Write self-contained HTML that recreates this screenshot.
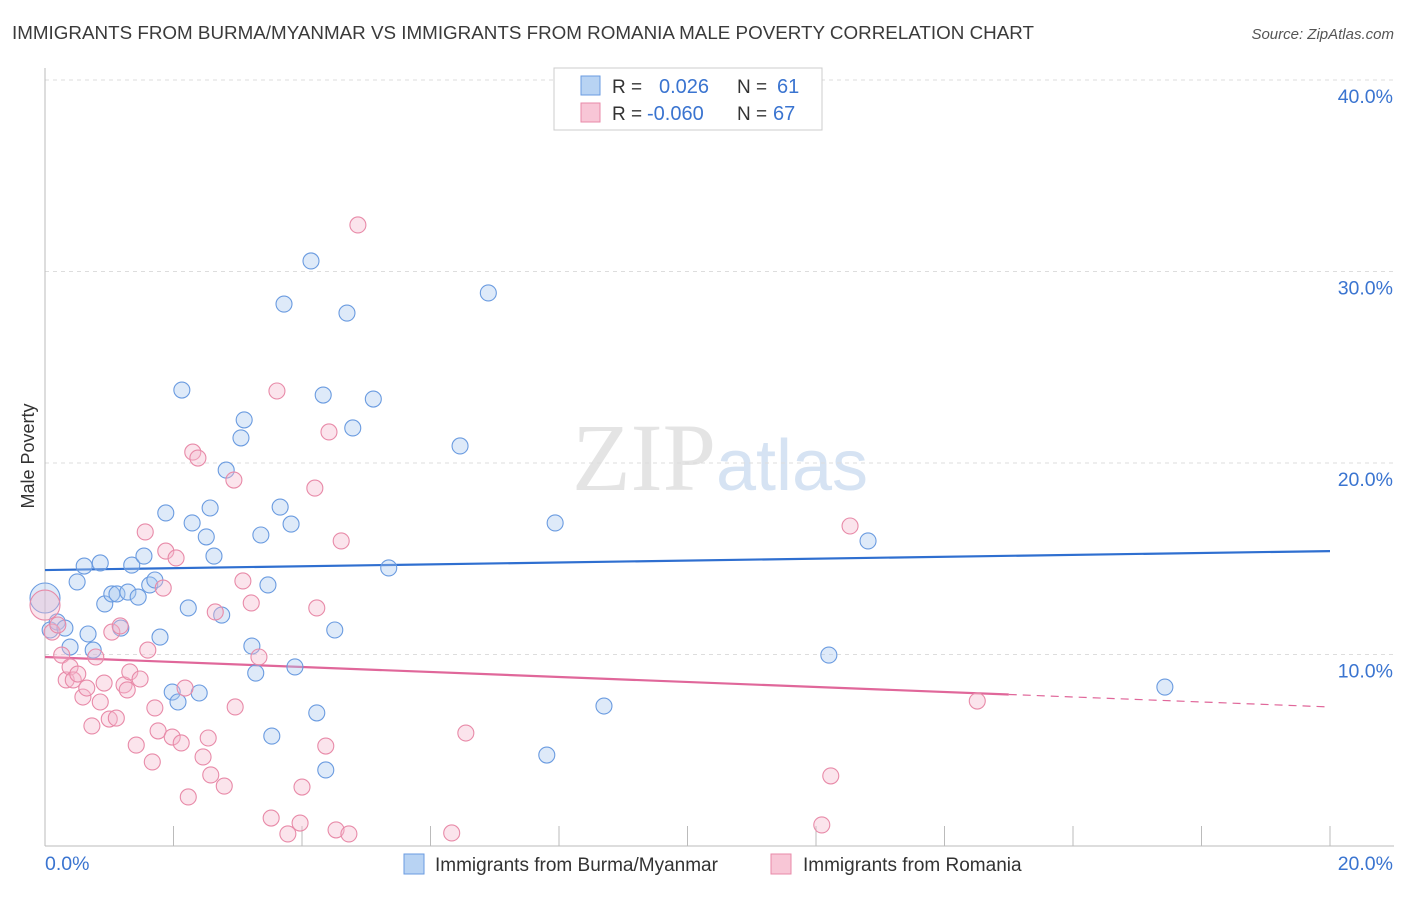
<!DOCTYPE html>
<html><head><meta charset="utf-8"><style>
html,body{margin:0;padding:0;background:#fff;}
body{width:1406px;height:892px;overflow:hidden;font-family:"Liberation Sans",sans-serif;}
</style></head><body>
<svg id="chart" width="1406" height="892" xmlns="http://www.w3.org/2000/svg" font-family="Liberation Sans, sans-serif">
<text x="12" y="39" font-size="18.6" fill="#3a3a3a" textLength="1022" lengthAdjust="spacingAndGlyphs">IMMIGRANTS FROM BURMA/MYANMAR VS IMMIGRANTS FROM ROMANIA MALE POVERTY CORRELATION CHART</text>
<text x="1394" y="39" font-size="15" fill="#555" text-anchor="end" font-style="italic">Source: ZipAtlas.com</text>
<text x="720" y="490" font-size="96" text-anchor="middle" fill="#e4e4e4" font-family="Liberation Serif, serif">ZIP<tspan fill="#d6e3f3" font-family="Liberation Sans, sans-serif" font-size="72">atlas</tspan></text>
<text transform="translate(34,456) rotate(-90)" font-size="18" fill="#333" text-anchor="middle">Male Poverty</text>
<g id="grid"></g><g id="axes"></g><g id="lines"></g><g id="points"></g>
<g>
<rect x="554" y="68" width="268" height="62" fill="#fff" stroke="#ccc"/>
<rect x="581" y="76" width="19" height="19" fill="#b8d3f3" stroke="#6a9be0"/>
<text x="612" y="93" font-size="19" fill="#333">R = </text><text x="659" y="93" font-size="20" fill="#3a74d0">0.026</text>
<text x="737" y="93" font-size="19" fill="#333">N = </text><text x="777" y="93" font-size="20" fill="#3a74d0">61</text>
<rect x="581" y="103" width="19" height="19" fill="#f8c6d6" stroke="#e88aa8"/>
<text x="612" y="120" font-size="19" fill="#333">R = </text><text x="647" y="120" font-size="20" fill="#3a74d0">-0.060</text>
<text x="737" y="120" font-size="19" fill="#333">N = </text><text x="773" y="120" font-size="20" fill="#3a74d0">67</text>
</g>
<g>
<rect x="404" y="854" width="20" height="20" fill="#b8d3f3" stroke="#6a9be0"/>
<text x="435" y="871" font-size="19" fill="#333">Immigrants from Burma/Myanmar</text>
<rect x="771" y="854" width="20" height="20" fill="#f8c6d6" stroke="#e88aa8"/>
<text x="803" y="871" font-size="19" fill="#333">Immigrants from Romania</text>
</g>
</svg>
<script>
const xTicks=[0,2,4,6,8,10,12,14,16,18,20];
const yTicks=[10,20,30,40];
const xLabels=["0.0%","20.0%"];
const blueX=[0.00,0.08,0.19,0.31,0.39,0.50,0.61,0.67,0.75,0.86,0.93,1.04,1.12,1.18,1.29,1.35,1.45,1.54,1.63,1.71,1.79,1.88,1.98,2.07,2.13,2.23,2.29,2.40,2.51,2.57,2.63,2.75,2.82,3.05,3.10,3.22,3.28,3.36,3.47,3.53,3.66,3.72,3.83,3.89,4.14,4.23,4.33,4.37,4.51,4.70,4.79,5.11,5.35,6.46,6.90,7.81,7.94,8.70,12.20,12.81,17.43];
const blueY=[12.95,11.28,11.70,11.38,10.39,13.79,14.62,11.07,10.23,14.78,12.64,13.16,13.16,11.38,13.26,14.67,13.00,15.14,13.63,13.89,10.91,17.39,8.04,7.52,23.81,12.43,16.87,7.99,16.14,17.65,15.14,12.06,19.63,21.31,22.25,10.44,9.03,16.24,13.63,5.74,17.70,28.30,16.81,9.35,30.55,6.95,23.55,3.97,11.28,27.83,21.83,23.34,14.52,20.89,28.88,4.75,16.87,7.31,9.97,15.93,8.30];
const pinkX=[0.00,0.11,0.20,0.26,0.33,0.39,0.44,0.51,0.59,0.65,0.73,0.79,0.86,0.92,1.00,1.04,1.11,1.17,1.23,1.28,1.32,1.42,1.48,1.56,1.60,1.67,1.71,1.76,1.84,1.88,1.98,2.04,2.12,2.18,2.23,2.30,2.38,2.46,2.54,2.58,2.65,2.79,2.94,2.96,3.08,3.21,3.33,3.52,3.61,3.78,3.97,4.00,4.20,4.23,4.37,4.42,4.53,4.61,4.73,4.87,6.33,6.55,12.09,12.23,12.53,14.51];
const pinkY=[12.58,11.17,11.54,9.97,8.67,9.35,8.67,8.98,7.78,8.25,6.27,9.87,7.52,8.51,6.63,11.17,6.68,11.49,8.41,8.15,9.09,5.27,8.72,16.40,10.23,4.39,7.21,6.01,13.47,15.40,5.69,15.04,5.38,8.25,2.56,20.57,20.26,4.65,5.64,3.71,12.22,3.13,19.11,7.26,13.84,12.69,9.87,1.46,23.76,0.63,1.20,3.08,18.69,12.43,5.22,21.62,0.84,15.93,0.63,32.43,0.68,5.90,1.10,3.66,16.71,7.57];
const blueTrend=[14.41,15.40];
const pinkTrend=[9.87,7.26];
const pinkSolidEnd=15.0;
const NS="http://www.w3.org/2000/svg";
const xs=v=>45+v*64.25, ys=v=>846-v*19.15;
function mk(tag,attrs,parent){const e=document.createElementNS(NS,tag);for(const k in attrs)e.setAttribute(k,attrs[k]);parent.appendChild(e);return e;}
const grid=document.getElementById('grid'),axes=document.getElementById('axes'),lines=document.getElementById('lines'),pts=document.getElementById('points');
yTicks.forEach(t=>{
 const l=mk('line',{x1:45,x2:1394,y1:ys(t),y2:ys(t),stroke:'#ddd','stroke-dasharray':'4,4'},grid);
 
 
 const tx=mk('text',{x:1393,y:ys(t)+23,'font-size':19.5,fill:'#3a74d0','text-anchor':'end'},axes);
 tx.textContent=t.toFixed(1)+'%';
 
 
});
const base=mk('line',{x1:45,x2:1394,y1:846,y2:846,stroke:'#bbb'},axes);


const yax=mk('line',{x1:45,x2:45,y1:68,y2:846,stroke:'#bbb'},axes);


xTicks.forEach(t=>{
 const l=mk('line',{x1:xs(t),x2:xs(t),y1:826,y2:846,stroke:'#bbb'},axes);
 
 
});
const xl0=mk('text',{x:45,y:870,'font-size':19.5,fill:'#3a74d0'},axes);xl0.textContent=xLabels[0];


const xl1=mk('text',{x:1393,y:870,'font-size':19.5,fill:'#3a74d0','text-anchor':'end'},axes);xl1.textContent=xLabels[1];


function drawPts(X,Y,fill,stroke,name){X.forEach((x,i)=>{
 const r=(i===0)?15:8;
 const c=mk('circle',{cx:xs(x),cy:ys(Y[i]),r:r,fill:fill,'fill-opacity':0.38,stroke:stroke,'stroke-width':1.1},pts);
 
 
});}
drawPts(blueX,blueY,'#a9c8ee','#6a9be0','burma-point');
drawPts(pinkX,pinkY,'#f5b8cc','#e88aa8','romania-point');
const bl=mk('line',{x1:xs(0),y1:ys(blueTrend[0]),x2:xs(20),y2:ys(blueTrend[1]),stroke:'#2f6fd0','stroke-width':2.2},lines);


const pAt=x=>pinkTrend[0]+(pinkTrend[1]-pinkTrend[0])*x/20;
const pl=mk('line',{x1:xs(0),y1:ys(pinkTrend[0]),x2:xs(pinkSolidEnd),y2:ys(pAt(pinkSolidEnd)),stroke:'#e0679a','stroke-width':2.2},lines);


const pd=mk('line',{x1:xs(pinkSolidEnd),y1:ys(pAt(pinkSolidEnd)),x2:xs(20),y2:ys(pinkTrend[1]),stroke:'#e0679a','stroke-width':1.2,'stroke-dasharray':'8,6'},lines);


</script>
</body></html>
